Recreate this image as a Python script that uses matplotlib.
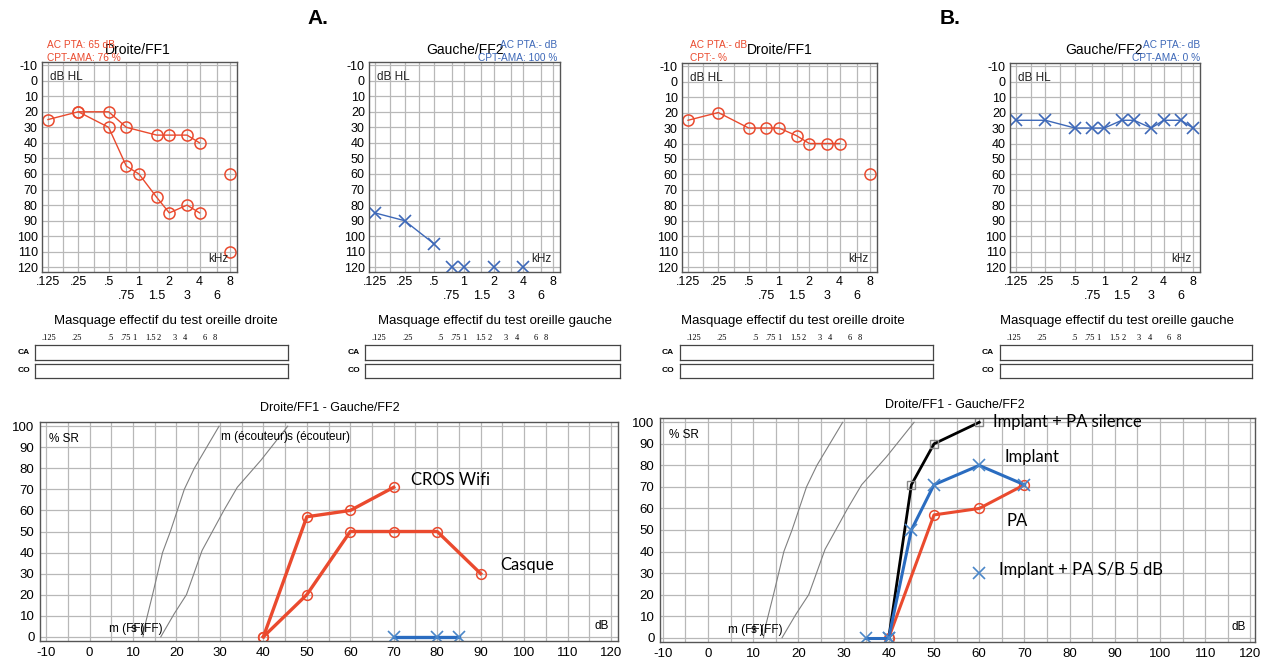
import numpy as np
import matplotlib.pyplot as plt

plt.rcParams['font.family'] = ['Liberation Sans', 'DejaVu Sans']

W, H = 1266, 669
fig = plt.figure(figsize=(W / 100, H / 100), dpi=100)

RED = '#ea4a2e'
BLUE = '#3d68b8'
GRID = '#b8b8b8'


def rect(x0, y0, x1, y1):
    # pixel box (top-left origin) -> figure fraction rect
    return [x0 / W, 1 - y1 / H, (x1 - x0) / W, (y1 - y0) / H]


# ---- audiogram data (kHz, dB HL) ----
freq_ticks = [0.125, 0.25, 0.5, 0.75, 1, 1.5, 2, 3, 4, 6, 8]
freq_labels = ['.125', '.25', '.5', '\n.75', '1', '\n1.5', '2', '\n3', '4', '\n6', '8']
db_ticks = list(range(-10, 121, 10))

a_r_up_f = [0.125, 0.25, 0.5, 0.75, 1.5, 2, 3, 4]
a_r_up_db = [25, 20, 20, 30, 35, 35, 35, 40]
a_r_low_f = [0.25, 0.5, 0.75, 1, 1.5, 2, 3, 4]
a_r_low_db = [20, 30, 55, 60, 75, 85, 80, 85]
a_r_iso_f = [8, 8]
a_r_iso_db = [60, 110]

a_l_f = [0.125, 0.25, 0.5]
a_l_db = [85, 90, 105]
a_l_iso_f = [0.75, 1, 2, 4]
a_l_iso_db = [120, 120, 120, 120]

b_r_f = [0.125, 0.25, 0.5, 0.75, 1, 1.5, 2, 3, 4]
b_r_db = [25, 20, 30, 30, 30, 35, 40, 40, 40]
b_r_iso_f = [8]
b_r_iso_db = [60]

b_l_f = [0.125, 0.25, 0.5, 0.75, 1, 1.5, 2, 3, 4, 6, 8]
b_l_db = [25, 25, 30, 30, 30, 25, 25, 30, 25, 25, 30]

# ---- speech audiometry data (dB, % SR) ----
speech_ticks = list(range(-10, 121, 10))
pct_ticks = list(range(0, 101, 10))
ref_m_db = [12.3, 12.7, 14.5, 16.8, 18.6, 21.8, 24.1, 29.8]
ref_m_pct = [0, 5, 20, 40, 50, 70, 80, 100]
ref_s_db = [16.4, 19.5, 22.3, 25.9, 30.9, 34, 39.5, 45.6]
ref_s_pct = [0, 11, 20, 41, 60, 71, 84, 100]

cros_db = [40, 50, 60, 70]
cros_pct = [0, 57, 60, 71]
casque_db = [40, 50, 60, 70, 80, 90]
casque_pct = [0, 20, 50, 50, 50, 30]
a_left_db = [70, 80, 85]
a_left_pct = [0, 0, 0]

silence_db = [40, 45, 50, 60]
silence_pct = [0, 71, 90, 100]
implant_db = [40, 45, 50, 60, 70]
implant_pct = [0, 50, 71, 80, 71]
implant0_db = [35, 40]
implant0_pct = [0, 0]
pa_db = [40, 50, 60, 70]
pa_pct = [0, 57, 60, 71]
snr_db = [60]
snr_pct = [30]

mask_freqs = ['.125', '.25', '.5', '.75', '1', '1.5', '2', '3', '4', '6', '8']
mask_pos = [0.013, 0.134, 0.273, 0.324, 0.371, 0.422, 0.47, 0.53, 0.574, 0.65, 0.69]


def audiogram(box, title, title_x, info, info_color, info_x, info_ha):
    ax = fig.add_axes(rect(*box))
    ax.set_xscale('log', base=2)
    ax.set_xlim(0.109, 9.4)
    ax.set_ylim(123, -12)
    ax.set_xticks(freq_ticks)
    ax.set_xticklabels(freq_labels, fontsize=9)
    ax.set_xticks([0.177, 0.354], minor=True)
    ax.set_xticklabels([], minor=True)
    ax.set_yticks(db_ticks)
    ax.set_yticklabels([str(v) for v in db_ticks], fontsize=9)
    ax.tick_params(length=0, pad=3)
    ax.tick_params(axis='x', which='minor', length=0)
    ax.grid(True, which='both', color=GRID, lw=0.9)
    ax.set_axisbelow(True)
    for s in ax.spines.values():
        s.set_color('#555555')
        s.set_linewidth(1.0)
    ax.text(0.04, 0.955, 'dB HL', transform=ax.transAxes, fontsize=8.5,
            va='top', ha='left', color='#222222')
    ax.text(0.955, 0.035, 'kHz', transform=ax.transAxes, fontsize=8.5,
            va='bottom', ha='right', color='#222222')
    fig.text(title_x / W, 1 - 50 / H, title, fontsize=10, ha='center', va='center')
    fig.text(info_x / W, 1 - 45 / H, info[0], fontsize=7.3, color=info_color,
             ha=info_ha, va='center')
    fig.text(info_x / W, 1 - 58 / H, info[1], fontsize=7.3, color=info_color,
             ha=info_ha, va='center')
    return ax


circ = dict(marker='o', ms=8, mfc='none', mec=RED, mew=1.1)
cross = dict(marker='x', ms=9, mec=BLUE, mew=1.2)

# A right ear
ax = audiogram((42, 62, 237, 272), 'Droite/FF1', 138,
               ['AC PTA: 65 dB', 'CPT-AMA: 76 %'], RED, 47, 'left')
ax.plot(a_r_up_f, a_r_up_db, color=RED, lw=1, **circ)
ax.plot(a_r_low_f, a_r_low_db, color=RED, lw=1, **circ)
ax.plot(a_r_iso_f, a_r_iso_db, ls='none', **circ)

# A left ear
ax = audiogram((369, 62, 560, 272), 'Gauche/FF2', 465,
               ['AC PTA:- dB', 'CPT-AMA: 100 %'], BLUE, 557, 'right')
ax.plot(a_l_f, a_l_db, color=BLUE, lw=1, **cross)
ax.plot(a_l_iso_f, a_l_iso_db, ls='none', **cross)

# B right ear
ax = audiogram((682, 63, 877, 272), 'Droite/FF1', 780,
               ['AC PTA:- dB', 'CPT:- %'], RED, 690, 'left')
ax.plot(b_r_f, b_r_db, color=RED, lw=1, **circ)
ax.plot(b_r_iso_f, b_r_iso_db, ls='none', **circ)

# B left ear
ax = audiogram((1010, 63, 1200, 272), 'Gauche/FF2', 1104,
               ['AC PTA:- dB', 'CPT-AMA: 0 %'], BLUE, 1200, 'right')
ax.plot(b_l_f, b_l_db, color=BLUE, lw=1, **cross)

fig.text(318 / W, 1 - 18 / H, 'A.', fontsize=15, fontweight='bold', ha='center', va='center')
fig.text(950 / W, 1 - 18 / H, 'B.', fontsize=15, fontweight='bold', ha='center', va='center')


# ---- masking boxes ----
def masking(x0, x1, title, title_x, lab_x):
    fig.text(title_x / W, 1 - 321 / H, title, fontsize=9.5, ha='center', va='center')
    for p, lab in zip(mask_pos, mask_freqs):
        fig.text((x0 + 3 + p * (x1 - x0)) / W, 1 - 338 / H, lab, fontsize=6,
                 family='Liberation Serif', ha='left', va='center')
    for (ya, yb), lab in zip([(345, 360), (364, 378)], ['CA', 'CO']):
        bx = fig.add_axes(rect(x0, ya, x1, yb))
        bx.set_xticks([])
        bx.set_yticks([])
        for s in bx.spines.values():
            s.set_color('#444444')
            s.set_linewidth(0.9)
        fig.text(lab_x / W, 1 - (ya + yb) / 2 / H, lab, fontsize=6,
                 fontweight='bold', ha='center', va='center')


masking(35, 288, 'Masquage effectif du test oreille droite', 166, 24)
masking(365, 620, 'Masquage effectif du test oreille gauche', 495, 354)
masking(680, 933, 'Masquage effectif du test oreille droite', 793, 668)
masking(1000, 1252, 'Masquage effectif du test oreille gauche', 1117, 988)


# ---- speech audiograms ----
def speech(box, xlim, title_x, title_y, ecouteur=True):
    ax = fig.add_axes(rect(*box))
    ax.set_xlim(*xlim)
    ax.set_ylim(-2, 102)
    ax.set_xticks(speech_ticks)
    ax.set_xticklabels([str(v) for v in speech_ticks], fontsize=9.5)
    ax.set_xticks(np.arange(-5, 120, 10), minor=True)
    ax.set_yticks(pct_ticks)
    ax.set_yticklabels([str(v) for v in pct_ticks], fontsize=9.5)
    ax.tick_params(which='both', length=0, pad=4)
    ax.grid(True, which='both', color=GRID, lw=0.9)
    ax.set_axisbelow(True)
    for s in ax.spines.values():
        s.set_color('#555555')
        s.set_linewidth(1.0)
    ax.plot(ref_m_db, ref_m_pct, color='#808080', lw=0.8)
    ax.plot(ref_s_db, ref_s_pct, color='#808080', lw=0.8)
    if ecouteur:
        ax.text(30.3, 95, 'm (écouteur)', fontsize=8.5, va='center', ha='left')
        ax.text(45.5, 95, 's (écouteur)', fontsize=8.5, va='center', ha='left')
    ax.text(4.4, 3.5, 'm (FF)', fontsize=8.5, va='center', ha='left')
    ax.text(9.6, 3.5, 's (FF)', fontsize=8.5, va='center', ha='left')
    ax.text(0.015, 0.95, '% SR', transform=ax.transAxes, fontsize=8.5, va='top', ha='left')
    ax.text(0.985, 0.04, 'dB', transform=ax.transAxes, fontsize=8.5, va='bottom', ha='right')
    fig.text(title_x / W, 1 - title_y / H, 'Droite/FF1 - Gauche/FF2', fontsize=9,
             ha='center', va='center')
    return ax


label_font = dict(fontsize=12, family=['Lato', 'DejaVu Sans'], va='center', ha='left')
scirc = dict(marker='o', ms=7, mfc='none', mec=RED, mew=1.1)
scross = dict(marker='x', ms=8, mec='#4a86c8', mew=1.2)

ax = speech((40, 422, 618, 641), (-11.4, 121.6), 330, 408)
ax.plot(cros_db, cros_pct, color=RED, lw=2.4, **scirc)
ax.plot(casque_db, casque_pct, color=RED, lw=2.4, **scirc)
ax.plot(a_left_db, a_left_pct, color='#2a6cc0', lw=2.4, **scross)
ax.text(74, 74.5, 'CROS Wifi', **label_font)
ax.text(94.5, 34, 'Casque', **label_font)

ax = speech((660, 418, 1255, 642), (-10.6, 121), 955, 405, ecouteur=False)
ax.plot(silence_db, silence_pct, color='black', lw=2, marker='s', ms=6,
        mfc='none', mec='#888888', mew=1)
ax.plot(pa_db, pa_pct, color=RED, lw=2.2, **scirc)
ax.plot(implant_db, implant_pct, color='#2a6cc0', lw=2.2, **scross)
ax.plot(implant0_db, implant0_pct, color='#2a6cc0', lw=2.2, **scross)
ax.plot(snr_db, snr_pct, ls='none', **scross)
ax.text(63, 100, 'Implant + PA silence', **label_font)
ax.text(65.5, 84, 'Implant', **label_font)
ax.text(66, 54, 'PA', **label_font)
ax.text(64.3, 31.5, 'Implant + PA S/B 5 dB', **label_font)

fig.savefig('out.png', dpi=100)
